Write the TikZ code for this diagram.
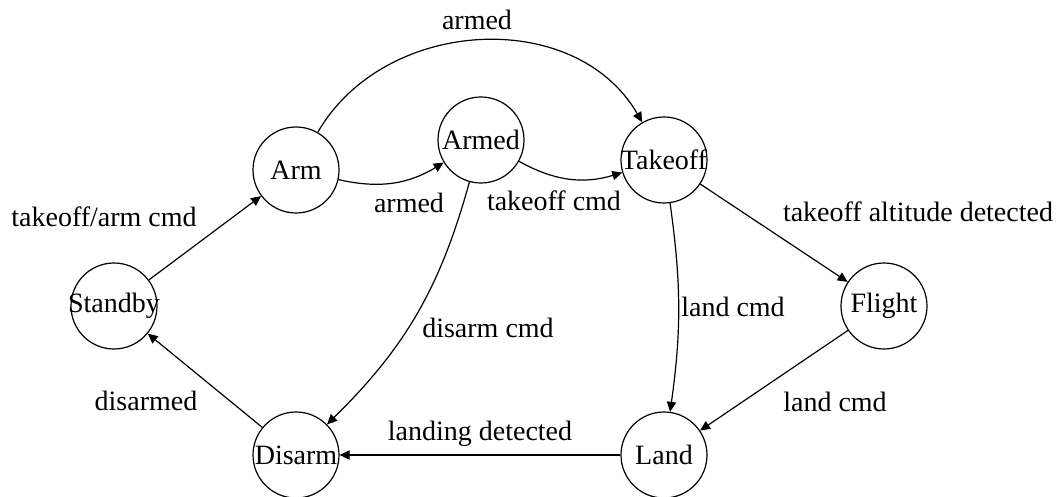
\documentclass[tikz,border=0pt]{standalone}
\usepackage{fontspec}
\setmainfont{Liberation Serif}
\usetikzlibrary{arrows.meta}

\begin{document}
\begin{tikzpicture}[x=0.5pt, y=-0.5pt,
  every node/.style={font=\fontsize{14pt}{16pt}\selectfont},
  state/.style={draw, circle, minimum size=43pt, inner sep=0pt, line width=0.6pt},
  lbl/.style={inner sep=0pt},
  edge/.style={draw, line width=0.6pt, -{Triangle[length=5pt, width=4.6pt]}}
]
\useasboundingbox (0,0) rectangle (1060,497);

% states
\node[state] (standby) at (114,306) {\makebox[0pt]{Standby}};
\node[state] (arm)     at (296,170) {\makebox[0pt]{Arm}};
\node[state] (armed)   at (481,140) {\makebox[0pt]{Armed}};
\node[state] (takeoff) at (664,160) {\makebox[0pt]{Takeoff}};
\node[state] (flight)  at (884,306) {\makebox[0pt]{Flight}};
\node[state] (land)    at (664,455) {\makebox[0pt]{Land}};
\node[state] (disarm)  at (296,455) {\makebox[0pt]{Disarm}};

% transitions
\path[edge] (standby) -- (arm);
\path[edge] (arm) to[bend right=22] (armed);
\path[edge] (arm) to[out=60, in=120, looseness=1.05] (takeoff);
\path[edge] (armed) to[bend right=23] (takeoff);
\path[edge] (armed) to[bend left=15] (disarm);
\path[edge] (takeoff) -- (flight);
\path[edge] (takeoff) to[bend left=8] (land);
\path[edge] (flight) -- (land);
\path[edge] (land) -- (disarm);
\path[edge] (disarm) -- (standby);

% transition labels
\node[lbl] (l1)  at (104,217) {takeoff/arm cmd};
\node[lbl] (l2)  at (477,20)  {armed};
\node[lbl] (l3)  at (409,203) {armed};
\node[lbl] (l4)  at (554,201) {takeoff cmd};
\node[lbl] (l5)  at (488,328) {disarm cmd};
\node[lbl] (l6)  at (918,212) {takeoff altitude detected};
\node[lbl] (l7)  at (733,307) {land cmd};
\node[lbl] (l8)  at (835,402) {land cmd};
\node[lbl] (l9)  at (480,434) {landing detected};
\node[lbl] (l10) at (146,401) {disarmed};
\end{tikzpicture}
\end{document}
